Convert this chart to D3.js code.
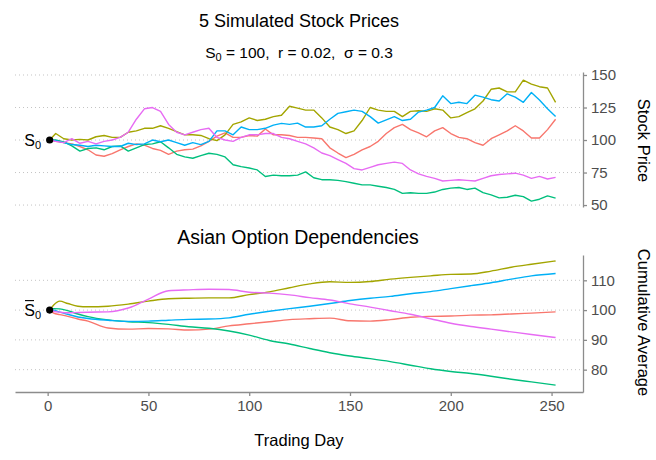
<!DOCTYPE html>
<html>
<head>
<meta charset="utf-8">
<script src="https://cdn.jsdelivr.net/npm/d3@7"></script>
<style>
html,body{margin:0;padding:0;background:#fff;}
svg{display:block;font-family:"Liberation Sans",Arial,Helvetica,sans-serif;}
</style>
</head>
<body>
<svg id="chart" width="656" height="460"></svg>
<script>
// ---------- data ----------
const seriesNames = ["1", "2", "3", "4", "5"];
const seriesColors = ["#F8766D", "#A3A500", "#00BF7D", "#00B0F6", "#E76BF3"];

const days = [1,4,8,12,16,20,24,28,32,36,40,44,48,52,56,60,64,68,72,76,80,84,88,92,96,100,104,108,112,116,120,124,128,132,136,140,144,148,152,156,160,164,168,172,176,180,184,188,192,196,200,204,208,212,216,220,224,228,232,236,240,244,248,252];

const priceRed = [100,99,98,97,95,92.5,88.5,87.5,89.5,92.5, 95,97,96,93.5,92,89,91.5,92.5,93,95.5, 99,103,105.5,102,102,103.5,103,108.5,104,104, 103.5,102,102,101.5,101,94,90,86.5,89,92.5, 95,99,105,109.5,112,108,105.5,102.5,107,109.5, 105,102,101,98,96,101,104,107,111,107, 101.5,101.5,108,116];
const priceOlive = [100,105,101,100,100.5,100,102.5,103.5,102,102, 106,107,109,109,111,109,106.4,104,104,103.5, 101,99.5,104,112,114,117,115,116,118,119, 126,124.5,123,123,117,110,108,105,107,115, 125,123,122,122,118,122,122.5,122,124,123, 117,118,121,124,130,139,140,137,137,146, 143,141,140,129];
const priceGreen = [100,100,98.5,95.5,91.5,93.5,94,92.5,95,95.5, 91.5,94,96.5,97,98.7,94,89,87,86,88, 89.8,89,87,81,79.5,78.5,77,72,73,72.5, 72.5,73,75.5,71,69.5,69.5,69,68,66.8,65.5, 65.5,64.5,63.5,62,59,59.5,59,59,60,62, 63,63.5,62,63,59.5,57.8,55.5,56,57.5,56.5, 53,54.5,57,55.3];
const priceBlue = [100,99.5,98,96.5,96,95,96,95.5,95,95, 97.5,96.5,97,100,98.7,100,98,96,98,96.5, 99,107,107,104,110,108,108,109,111.5,112.8, 112,113,110,110,111,116,120.5,121.7,123,122, 118,113,115.5,118,115,116,121.5,123,125,134, 128,129,128,134.5,133,131,130,135.5,133,129, 136.5,130.7,124,118];
const pricePink = [100,99,98,101,97.5,99,97,99,100,102, 106,116,124,125,122,112,106,104,106,108, 109,102,100,99,102,104,104,105,105,102, 101,99,97,94,90,88,85,82,78,77, 79,81,82,83,82,77,74,72,70.5,68.5, 69,69.5,69,68.5,70.5,72.5,73.5,74,74.5,73, 70.5,72,70,71.3];

const avgDays = [1,3,6,10,15,20,30,40,50,60,70,80,90,100,110,120,130,140,150,160,170,180,190,200,210,220,230,240,252];
const avgRed = [100,99,98.5,97.9,97,96.3,94,93.6,93.8,93.7,93.3,93.6,94.7,95.4,96.1,96.8,97.1,97.3,96.4,96.3,96.8,97.6,97.9,98,98.3,98.4,98.7,99,99.4];
const avgOlive = [100,101.7,103,102.2,101.3,101.1,101.3,102,103,103.8,104,104.1,104.1,105.2,106.1,107.5,108.8,109.5,109.3,109.6,110.4,111,111.5,112,112.1,113.1,114.4,115.4,116.5];
const avgGreen = [100,100.5,100.4,99.8,98.7,97.8,96.7,96.1,95.8,95.2,94.4,93.9,93,91.6,89.8,88.6,87.1,85.7,84.6,83.7,82.7,81.5,80.3,79.4,78.7,77.8,76.8,75.9,74.8];
const avgBlue = [100,100,99.3,98.6,97.7,97.2,96.6,96.2,96.3,96.6,96.9,97,97.4,98.6,99.6,100.5,101.3,102.2,103.2,104,104.6,105.5,106.2,107.2,108.2,109.2,110.4,111.5,112.3];
const avgPink = [100,99.6,99.3,99.1,99.2,99.3,99.4,100.7,103.7,106.5,106.8,107,106.9,106,105.7,105.1,104.2,103.4,102.1,101,99.8,98.6,97.1,95.6,94.5,93.6,92.7,91.8,90.8];

const S0 = 100;
const startDay = 1;
const xTicks = [0, 50, 100, 150, 200, 250];
const priceTicks = [50, 75, 100, 125, 150];
const avgTicks = [80, 90, 100, 110];

// ---------- drawing ----------
const priceSeries = [priceRed, priceOlive, priceGreen, priceBlue, pricePink];
const avgSeries = [avgRed, avgOlive, avgGreen, avgBlue, avgPink];

const svg = d3.select("#chart");
const panelLeft = 15, panelRight = 583;

const x = d3.scaleLinear().domain([-16.2, 265.6]).range([panelLeft, panelRight]);
const yTop = d3.scaleLinear().domain([48.5, 152.3]).range([207, 72]);
const yBot = d3.scaleLinear().domain([72.5, 118.5]).range([392, 255]);

const tickColor = "#4D4D4D";
const axisColor = "#8C8C8C";

function grid(scale, ticks) {
  svg.append("g").selectAll("line").data(ticks).join("line")
    .attr("x1", panelLeft).attr("x2", panelRight - 2)
    .attr("y1", d => scale(d)).attr("y2", d => scale(d))
    .attr("stroke", "#C4C4C4").attr("stroke-width", 1)
    .attr("stroke-dasharray", "1,3");
}
grid(yTop, priceTicks);
grid(yBot, avgTicks);

function styleAxis(g) {
  g.select(".domain").attr("stroke", axisColor).attr("stroke-width", 1.3);
  g.selectAll(".tick line").attr("stroke", axisColor).attr("stroke-width", 1.3);
  g.selectAll(".tick text").attr("fill", tickColor)
    .style("font-size", "15px").style("font-family", "'Liberation Sans',Arial,sans-serif");
}

svg.append("g").attr("transform", `translate(${panelRight},0)`)
  .call(d3.axisRight(yTop).tickValues(priceTicks).tickSize(4).tickSizeOuter(0).tickPadding(4))
  .call(styleAxis);
svg.append("g").attr("transform", `translate(${panelRight},0)`)
  .call(d3.axisRight(yBot).tickValues(avgTicks).tickSize(4).tickSizeOuter(0).tickPadding(4))
  .call(styleAxis);
svg.append("g").attr("transform", `translate(0,392)`)
  .call(d3.axisBottom(x).tickValues(xTicks).tickSize(4).tickSizeOuter(0).tickPadding(4))
  .call(styleAxis);

const lineTop = d3.line().x((d, i) => x(days[i])).y(d => yTop(d));
const lineBot = d3.line().x((d, i) => x(avgDays[i])).y(d => yBot(d)).curve(d3.curveMonotoneX);

svg.append("g").selectAll("path").data(priceSeries).join("path")
  .attr("d", d => lineTop(d)).attr("fill", "none")
  .attr("stroke", (d, i) => seriesColors[i]).attr("stroke-width", 1.4)
  .attr("stroke-linejoin", "round");
svg.append("g").selectAll("path").data(avgSeries).join("path")
  .attr("d", d => lineBot(d)).attr("fill", "none")
  .attr("stroke", (d, i) => seriesColors[i]).attr("stroke-width", 1.4)
  .attr("stroke-linejoin", "round");

// start points
svg.append("circle").attr("cx", x(startDay)).attr("cy", yTop(S0)).attr("r", 3.6).attr("fill", "#000");
svg.append("circle").attr("cx", x(startDay)).attr("cy", yBot(S0)).attr("r", 3.6).attr("fill", "#000");

function sLabel(yPos, bar) {
  const t = svg.append("text").attr("x", 41).attr("y", yPos + 5.5)
    .attr("text-anchor", "end").attr("fill", "#000");
  t.append("tspan").style("font-size", "16px").text("S");
  t.append("tspan").style("font-size", "11px").attr("dy", 3).text("0");
  if (bar) {
    svg.append("line").attr("x1", 25).attr("x2", 34)
      .attr("y1", yPos - 9.5).attr("y2", yPos - 9.5)
      .attr("stroke", "#000").attr("stroke-width", 1.1);
  }
}
sLabel(yTop(S0), false);
sLabel(yBot(S0), true);

// titles
svg.append("text").attr("x", 299).attr("y", 27).attr("text-anchor", "middle")
  .style("font-size", "18px").attr("fill", "#000").text("5 Simulated Stock Prices");

const sub = svg.append("text").attr("x", 299).attr("y", 58).attr("text-anchor", "middle")
  .style("font-size", "15.5px").style("white-space", "pre").attr("fill", "#000");
sub.append("tspan").text("S");
sub.append("tspan").style("font-size", "11px").attr("dy", 3).text("0");
sub.append("tspan").attr("dy", -3).text(" = 100,  r = 0.02,  \u03C3 = 0.3");

svg.append("text").attr("x", 298).attr("y", 244).attr("text-anchor", "middle")
  .style("font-size", "19.5px").attr("fill", "#000").text("Asian Option Dependencies");

svg.append("text").attr("x", 299).attr("y", 446).attr("text-anchor", "middle")
  .style("font-size", "16.5px").attr("fill", "#000").text("Trading Day");

svg.append("text").attr("transform", "translate(638,140.5) rotate(90)")
  .attr("text-anchor", "middle").style("font-size", "16.5px").attr("fill", "#000").text("Stock Price");
svg.append("text").attr("transform", "translate(638,322.5) rotate(90)")
  .attr("text-anchor", "middle").style("font-size", "16.5px").attr("fill", "#000").text("Cumulative Average");
</script>
</body>
</html>
